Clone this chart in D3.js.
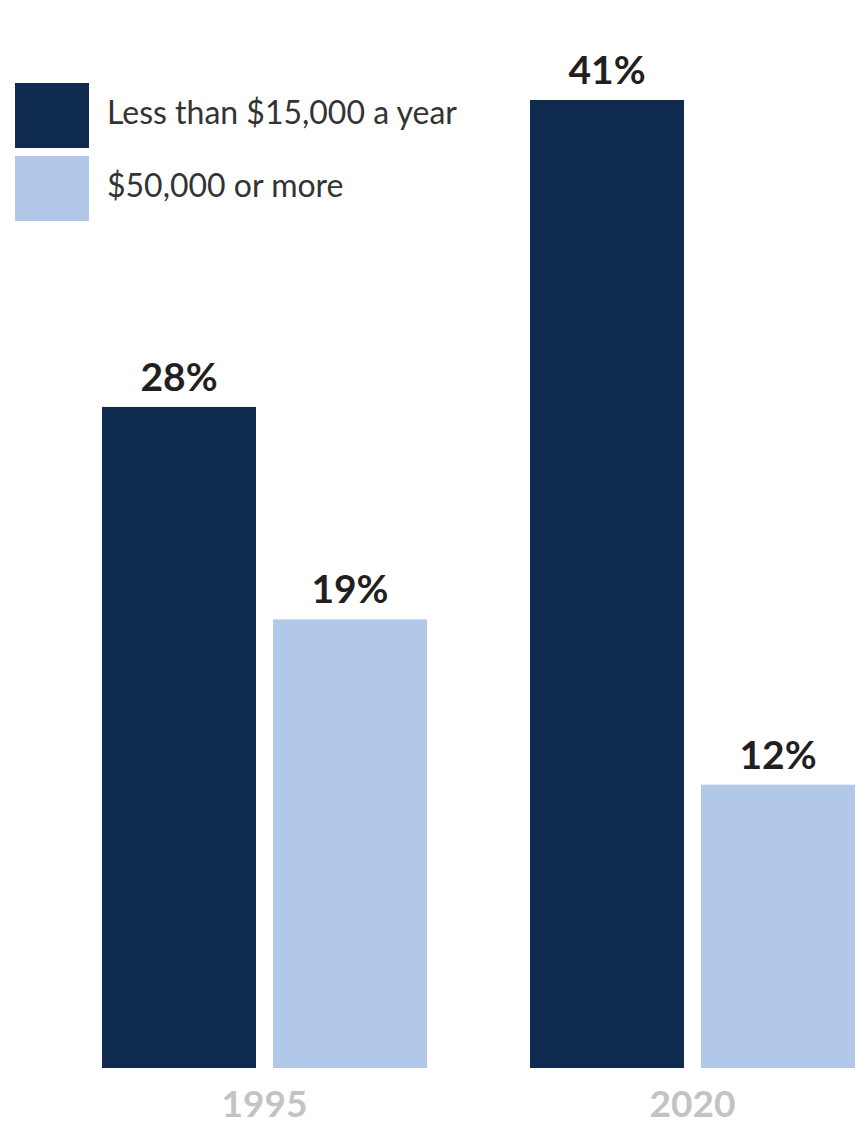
<!DOCTYPE html>
<html>
<head>
<meta charset="utf-8">
<script src="https://cdn.jsdelivr.net/npm/d3@7/dist/d3.min.js"></script>
<style>
  html, body { margin: 0; padding: 0; background: #fff; }
  svg { display: block; }
</style>
</head>
<body>
<script>
// Share of households by income band, two survey years
const years = ["1995", "2020"];
const seriesNames = ["Less than $15,000 a year", "$50,000 or more"];
const lowIncome = [28, 41];
const highIncome = [19, 12];
const seriesColors = ["#0f2b50", "#b1c8e8"];

const W = 858, H = 1124;
const svg = d3.select("body").append("svg").attr("width", W).attr("height", H);

const baseY = 1068;
const x0 = d3.scaleBand().domain(years).range([102, 855]).paddingInner(0.2407).paddingOuter(0);
const x1 = d3.scaleBand().domain([0, 1]).range([0, x0.bandwidth()]).paddingInner(0.0994);
const y = d3.scaleLinear().domain([0, 41]).range([baseY, 100]);

const rows = years.map((yr, i) => ({ year: yr, values: [lowIncome[i], highIncome[i]] }));

const groups = svg.selectAll("g.year").data(rows).join("g")
  .attr("class", "year")
  .attr("transform", d => `translate(${x0(d.year)},0)`);

groups.selectAll("rect").data(d => d.values.map((v, s) => ({ v, s }))).join("rect")
  .attr("x", d => x1(d.s))
  .attr("width", x1.bandwidth())
  .attr("y", d => y(d.v))
  .attr("height", d => baseY - y(d.v))
  .attr("fill", d => seriesColors[d.s]);

groups.selectAll("text.val").data(d => d.values.map((v, s) => ({ v, s }))).join("text")
  .attr("class", "val")
  .attr("x", d => x1(d.s) + x1.bandwidth() / 2)
  .attr("y", d => y(d.v) - 16)
  .attr("text-anchor", "middle")
  .attr("font-family", "Lato, 'Open Sans', sans-serif")
  .attr("font-weight", 700)
  .attr("font-size", 39)
  .attr("fill", "#231f20")
  .text(d => d.v + "%");

// Year labels along the bottom
const xAxis = d3.axisBottom(x0).tickSize(0).tickPadding(0);
const axisG = svg.append("g").attr("transform", `translate(0,${baseY})`).call(xAxis);
axisG.select(".domain").remove();
axisG.selectAll("text")
  .attr("dy", null)
  .attr("y", 49)
  .attr("font-family", "Lato, 'Open Sans', sans-serif")
  .attr("font-weight", 700)
  .attr("font-size", 37)
  .attr("fill", "#c3c3c3");

// Legend
const legend = svg.append("g").attr("transform", "translate(15,83)");
const li = legend.selectAll("g").data(seriesNames).join("g")
  .attr("transform", (d, i) => `translate(0,${i * 73})`);
li.append("rect").attr("width", 74).attr("height", 65).attr("fill", (d, i) => seriesColors[i]);
li.append("text")
  .attr("x", 92).attr("y", 41)
  .attr("font-family", "Lato, 'Open Sans', sans-serif")
  .attr("font-size", 32)
  .attr("fill", "#333")
  .text(d => d);
</script>
</body>
</html>
